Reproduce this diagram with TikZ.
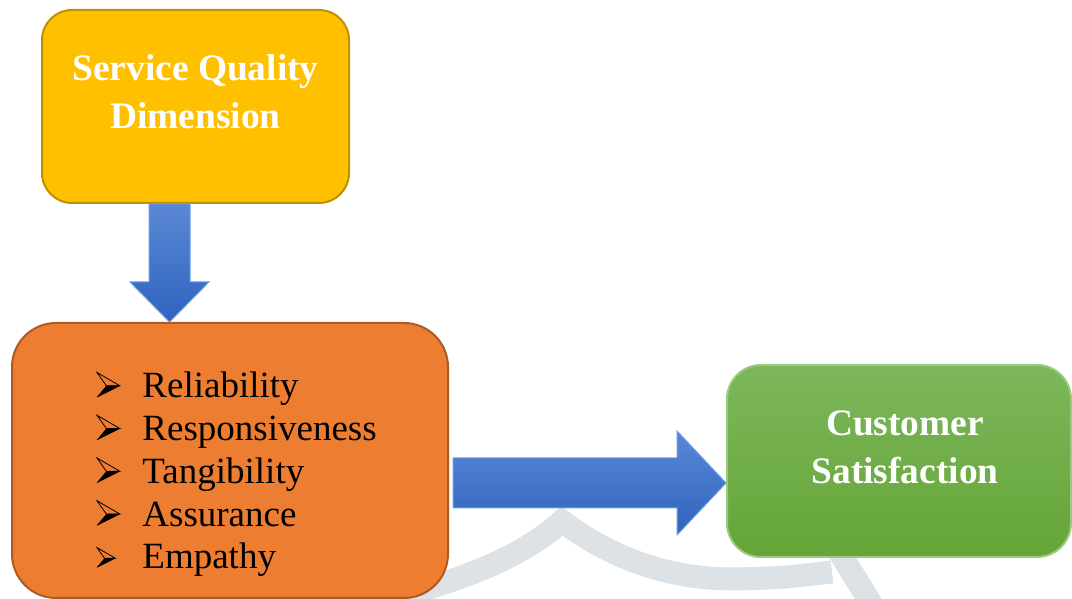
\documentclass[tikz,border=0pt]{standalone}
\usepackage{fontspec}
\setmainfont{Liberation Serif}
\usetikzlibrary{positioning, calc}

\definecolor{sqyellow}{HTML}{FFC000}
\definecolor{sqyellowline}{HTML}{BF9000}
\definecolor{dimorange}{HTML}{ED7D31}
\definecolor{dimorangeline}{HTML}{AE5A21}
\definecolor{csgreentop}{HTML}{7CB75B}
\definecolor{csgreenbot}{HTML}{65A537}
\definecolor{csgreenline}{HTML}{9CCB7F}
\definecolor{arrowtop}{HTML}{5A88D4}
\definecolor{arrowbot}{HTML}{2F63C0}
\definecolor{arrowline}{HTML}{6A9FE0}
\definecolor{markgray}{HTML}{DCE2E6}

\begin{document}
\begin{tikzpicture}[x=0.5pt, y=0.5pt,
  box/.style={rectangle, rounded corners=15pt, line width=1pt, inner sep=0pt},
  title/.style={font=\fontsize{18.7}{24}\selectfont\bfseries, text=white,
    align=center, inner sep=0pt},
  item/.style={font=\fontsize{18.5}{21.4}\selectfont, inner sep=0pt, anchor=base west},
  blockarrow/.style={top color=arrowtop, bottom color=arrowbot, draw=arrowline,
    line width=0.5pt},
  bul/.pic={
    % arrowhead bullet: open upper half, solid lower half
    \draw[line width=0.4pt, line join=miter] (0,25.5) -- (22.7,12.3) -- (9.3,12.3) -- cycle;
    \fill[black] (0,1) -- (22.7,12.3) -- (9.3,12.3) -- cycle;
    \draw[line width=0.4pt] (0,1) -- (22.7,12.3);
  }]
  \clip (0,0) rectangle (1072,599);

  % faint band in the background
  \draw[markgray, line width=11.5pt] (400,3) .. controls (480,24) and (530,49) .. (562,78)
    .. controls (620,34) and (680,20) .. (733,20) .. controls (780,21) .. (832,27);
  \draw[markgray, line width=11.5pt] (838,49) -- (872,-6);

  % boxes
  \node[box, fill=sqyellow, draw=sqyellowline,
    minimum width=153.5pt, minimum height=96.5pt] (sq) at (195.5,492.5) {};
  \node[box, fill=dimorange, draw=dimorangeline, rounded corners=22pt,
    minimum width=218pt, minimum height=137.5pt] (dims) at (230,138.5) {};
  \node[box, top color=csgreentop, bottom color=csgreenbot, draw=csgreenline,
    rounded corners=17pt, minimum width=172pt, minimum height=96pt] (cs) at (899,138) {};

  \node[title, below=22.5pt of sq.north] (sqtext) {Service Quality\\Dimension};
  \node[title, below=23pt of cs.north, xshift=3pt] (cstext) {Customer\\Satisfaction};

  % dimension list
  \node[item] (rel)  at (142,201) {Reliability};
  \node[item] (resp) at ($(rel.base west)+(0,-42.75)$) {Responsiveness};
  \node[item] (tang) at ($(resp.base west)+(0,-42.75)$) {Tangibility};
  \node[item] (assu) at ($(tang.base west)+(0,-42.75)$) {Assurance};
  \node[item] (emp)  at ($(assu.base west)+(0,-42.75)$) {Empathy};

  \pic at ($(rel.base west)+(-45,0)$) {bul};
  \pic at ($(resp.base west)+(-45,0)$) {bul};
  \pic at ($(tang.base west)+(-45,0)$) {bul};
  \pic at ($(assu.base west)+(-45,0)$) {bul};
  \pic[scale=0.8] at ($(emp.base west)+(-45,1)$) {bul};

  % block arrows
  \coordinate (d0) at ($(sq.south)+(-26,0)$);
  \coordinate (d1) at (d0 |- dims.north);
  \path[blockarrow] ($(d0)+(-20.5,0)$) -- ($(d1)+(-20.5,40)$) -- ($(d1)+(-39.5,40)$)
    -- (d1) -- ($(d1)+(39.5,40)$) -- ($(d1)+(20.5,40)$) -- ($(d0)+(20.5,0)$) -- cycle;

  \coordinate (r0) at ($(dims.east)+(4,-22.5)$);
  \coordinate (r1) at (r0 -| cs.west);
  \path[blockarrow] ($(r0)+(0,25)$) -- ($(r1)+(-49,25)$) -- ($(r1)+(-49,52)$)
    -- (r1) -- ($(r1)+(-49,-52)$) -- ($(r1)+(-49,-25)$) -- ($(r0)+(0,-25)$) -- cycle;
\end{tikzpicture}
\end{document}
